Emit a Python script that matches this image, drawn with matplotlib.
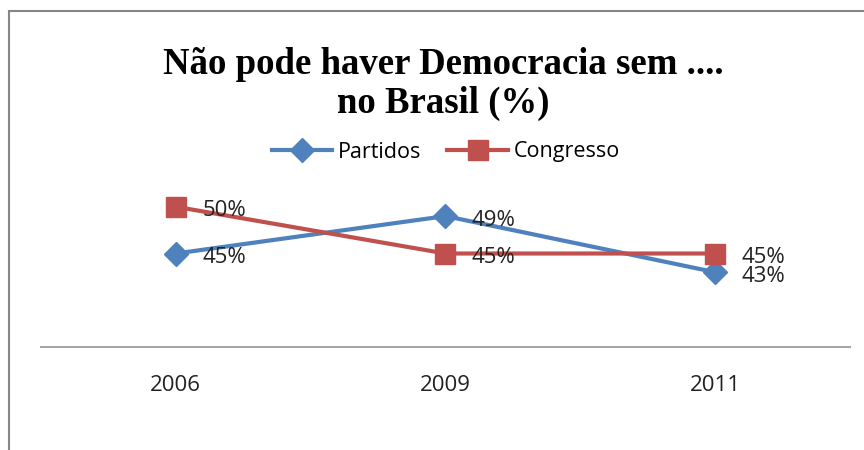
import matplotlib
matplotlib.use("Agg")
import matplotlib.pyplot as plt
from matplotlib.patches import Rectangle

years = ["2006", "2009", "2011"]
partidos = [45, 49, 43]
congresso = [50, 45, 45]

blue = "#4F81BD"
red = "#C0504D"
W, H = 864, 450

fig = plt.figure(figsize=(W / 100, H / 100), dpi=100)
ax = fig.add_axes([41 / W, (H - 347) / H, 809 / W, 187 / H])

x = list(range(len(years)))
ax.plot(x, partidos, color=blue, lw=3, marker="D", ms=12, label="Partidos", zorder=3)
ax.plot(x, congresso, color=red, lw=3, marker="s", ms=14, label="Congresso", zorder=3)

lab_font = dict(family="Open Sans", fontsize=16, color="#222222")
for xi, v in zip(x, partidos):
    ax.annotate(f"{v}%", (xi, v), xytext=(19, -3), textcoords="offset points",
                ha="left", va="center", **lab_font)
for xi, v in zip(x, congresso):
    ax.annotate(f"{v}%", (xi, v), xytext=(19, -3), textcoords="offset points",
                ha="left", va="center", **lab_font)

ax.set_xlim(-0.5, 2.5)
ax.set_ylim(35, 55)
ax.set_yticks([])
ax.set_xticks(x)
ax.set_xticklabels(years, **lab_font)
ax.tick_params(axis="x", length=0, pad=20)
for s in ["top", "right", "left"]:
    ax.spines[s].set_visible(False)
ax.spines["bottom"].set_color("#A6A6A6")
ax.spines["bottom"].set_linewidth(1.5)
ax.patch.set_alpha(0)

# chart frame (runs past the right and bottom edges)
fig.patches.append(Rectangle((9 / W, -0.1), 2.0, 1 - 11 / H + 0.1, transform=fig.transFigure,
                             fill=False, edgecolor="#868686", lw=1.5))

title_font = dict(family="Liberation Serif", fontsize=26.5, fontweight="bold", ha="center", va="center")
fig.text(443 / W, 1 - 64 / H, "Não pode haver Democracia sem ....", **title_font)
fig.text(443 / W, 1 - 103 / H, "no Brasil (%)", **title_font)

fig.legend(loc="center", bbox_to_anchor=(446 / W, 1 - 152 / H), ncol=2, frameon=False,
           prop={"family": "Open Sans", "size": 15.5}, handlelength=2.8, columnspacing=1.2,
           handletextpad=0.3)

fig.savefig("out.png", dpi=100)
